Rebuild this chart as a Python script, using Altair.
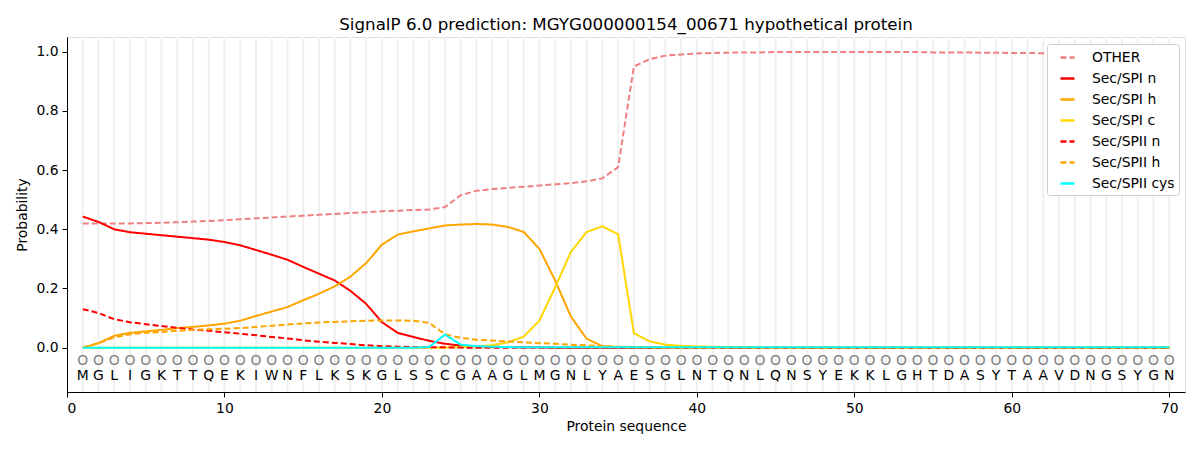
import altair as alt
import pandas as pd

sequence = list("MGLIGKTTQEKIWNFLKSKGLSSCGAAGLMGNLYAESGLNTQNLQNSYEKKLGHTDASYTAAVDNGSYGN")
positions = list(range(1, 71))

other = [0.420, 0.420, 0.420, 0.420, 0.421, 0.422, 0.424, 0.426, 0.428, 0.431,
         0.434, 0.437, 0.440, 0.443, 0.446, 0.449, 0.452, 0.455, 0.458, 0.461,
         0.463, 0.465, 0.467, 0.475, 0.515, 0.530, 0.536, 0.540, 0.544, 0.548,
         0.552, 0.556, 0.562, 0.572, 0.610, 0.950, 0.975, 0.987, 0.991, 0.994,
         0.996, 0.997, 0.998, 0.998, 0.999, 0.999, 0.999, 0.999, 0.999, 0.999,
         0.999, 0.999, 0.999, 0.999, 0.998, 0.998, 0.998, 0.997, 0.997, 0.996,
         0.996, 0.995, 0.995, 0.995, 0.994, 0.994, 0.993, 0.993, 0.995, 0.998]
spi_n = [0.443, 0.425, 0.400, 0.390, 0.385, 0.380, 0.375, 0.370, 0.365, 0.357,
         0.346, 0.330, 0.314, 0.297, 0.273, 0.250, 0.227, 0.192, 0.148, 0.086,
         0.050, 0.036, 0.023, 0.013, 0.007, 0.004, 0.003, 0.002, 0.001, 0.001] + [0.0] * 40
spi_h = [0.000, 0.015, 0.040, 0.050, 0.055, 0.060, 0.066, 0.070, 0.075, 0.081,
         0.091, 0.107, 0.122, 0.137, 0.160, 0.182, 0.207, 0.240, 0.286, 0.348,
         0.382, 0.393, 0.403, 0.413, 0.416, 0.418, 0.416, 0.408, 0.391, 0.334,
         0.227, 0.105, 0.030, 0.005, 0.002, 0.001] + [0.0] * 34
spi_c = [0.0] * 24 + [0.002, 0.004, 0.008, 0.018, 0.037, 0.091, 0.204, 0.323, 0.391, 0.410,
                      0.383, 0.049, 0.021, 0.010, 0.006, 0.004, 0.003, 0.002, 0.002, 0.001] + [0.001] * 26
spii_n = [0.130, 0.117, 0.096, 0.086, 0.079, 0.073, 0.067, 0.061, 0.057, 0.052,
          0.047, 0.042, 0.036, 0.031, 0.025, 0.020, 0.016, 0.012, 0.008, 0.005,
          0.003, 0.002, 0.001, 0.001] + [0.0] * 46
spii_h = [0.000, 0.015, 0.035, 0.045, 0.050, 0.053, 0.057, 0.060, 0.062, 0.064,
          0.066, 0.070, 0.074, 0.078, 0.082, 0.085, 0.087, 0.089, 0.091, 0.092,
          0.092, 0.091, 0.084, 0.045, 0.033, 0.027, 0.024, 0.021, 0.018, 0.015,
          0.013, 0.010, 0.008, 0.005, 0.003, 0.002, 0.001] + [0.0] * 33
spii_cys = [0.0] * 22 + [0.002, 0.044, 0.010, 0.005, 0.003, 0.002, 0.001] + [0.001] * 41

series_names = ["OTHER", "Sec/SPI n", "Sec/SPI h", "Sec/SPI c", "Sec/SPII n", "Sec/SPII h", "Sec/SPII cys"]
series_values = [other, spi_n, spi_h, spi_c, spii_n, spii_h, spii_cys]
series_colors = ["#f08080", "#ff0000", "#ffa500", "#ffd700", "#ff0000", "#ffa500", "#00ffff"]
series_dash = [[6, 3], [1, 0], [1, 0], [1, 0], [6, 3], [6, 3], [1, 0]]

for v in series_values:
    assert len(v) == 70, len(v)

rows = []
for name, vals in zip(series_names, series_values):
    for p, v in zip(positions, vals):
        rows.append({"pos": p, "prob": v, "series": name})
df = pd.DataFrame(rows)

seq_df = pd.DataFrame({"pos": positions, "aa": sequence, "o": ["O"] * 70,
                       "y_o": [-0.045] * 70, "y_aa": [-0.095] * 70})

xscale = alt.Scale(domain=[0, 71], nice=False, zero=False)
yscale = alt.Scale(domain=[-0.15, 1.05], nice=False, zero=False)

grid = alt.Chart(seq_df).mark_rule(color="#f0f0f0", strokeWidth=2).encode(
    x=alt.X("pos:Q", scale=xscale,
            axis=alt.Axis(values=list(range(0, 71, 10)), title="Protein sequence", grid=False,
                          labelFontSize=13.9, titleFontSize=13.9, titleFontWeight="normal",
                          tickSize=5, labelPadding=4, titlePadding=5, domainColor="black",
                          tickColor="black", labelColor="black", titleColor="black")),
    y=alt.value(0),
    y2=alt.value(355),
)


def make_legend():
    return alt.Legend(title=None, orient="none", legendX=980, legendY=7,
                      symbolType="M-0.875,0H0.875", symbolSize=256, symbolStrokeWidth=2.5,
                      symbolOffset=7,
                      labelFontSize=13.9, labelColor="black", rowPadding=4,
                      fillColor="white", strokeColor="#cccccc", cornerRadius=3,
                      padding=4, labelOffset=15)


lines = alt.Chart(df).mark_line(strokeWidth=2).encode(
    x=alt.X("pos:Q", scale=xscale),
    y=alt.Y("prob:Q", scale=yscale,
            axis=alt.Axis(values=[0, 0.2, 0.4, 0.6, 0.8, 1.0], format=".1f", title="Probability",
                          grid=False, labelFontSize=13.9, titleFontSize=13.9, titleFontWeight="normal",
                          tickSize=5, labelPadding=4, titlePadding=6, domainColor="black",
                          tickColor="black", labelColor="black", titleColor="black")),
    color=alt.Color("series:N", sort=series_names,
                    scale=alt.Scale(domain=series_names, range=series_colors),
                    legend=make_legend()),
    strokeDash=alt.StrokeDash("series:N", sort=series_names,
                              scale=alt.Scale(domain=series_names, range=series_dash),
                              legend=make_legend()),
    detail="series:N",
)

circles = alt.Chart(seq_df).mark_text(fontSize=13.9, color="#808080", font="DejaVu Sans").encode(
    x=alt.X("pos:Q", scale=xscale),
    y=alt.Y("y_o:Q", scale=yscale),
    text="o:N",
)

letters = alt.Chart(seq_df).mark_text(fontSize=13.9, color="black", font="DejaVu Sans").encode(
    x=alt.X("pos:Q", scale=xscale),
    y=alt.Y("y_aa:Q", scale=yscale),
    text="aa:N",
)

chart = alt.layer(grid, lines, circles, letters).properties(
    width=1118, height=355,
    title=alt.TitleParams("SignalP 6.0 prediction: MGYG000000154_00671 hypothetical protein",
                          fontSize=16.7, fontWeight="normal", anchor="middle", offset=2, color="black"),
    autosize=alt.AutoSizeParams(type="none"),
    padding={"left": 59, "top": 29, "right": 7, "bottom": 50},
).configure_view(stroke="black", strokeWidth=1).configure(font="DejaVu Sans")

chart.save("out.html", embed_options={"renderer": "svg", "actions": False})
